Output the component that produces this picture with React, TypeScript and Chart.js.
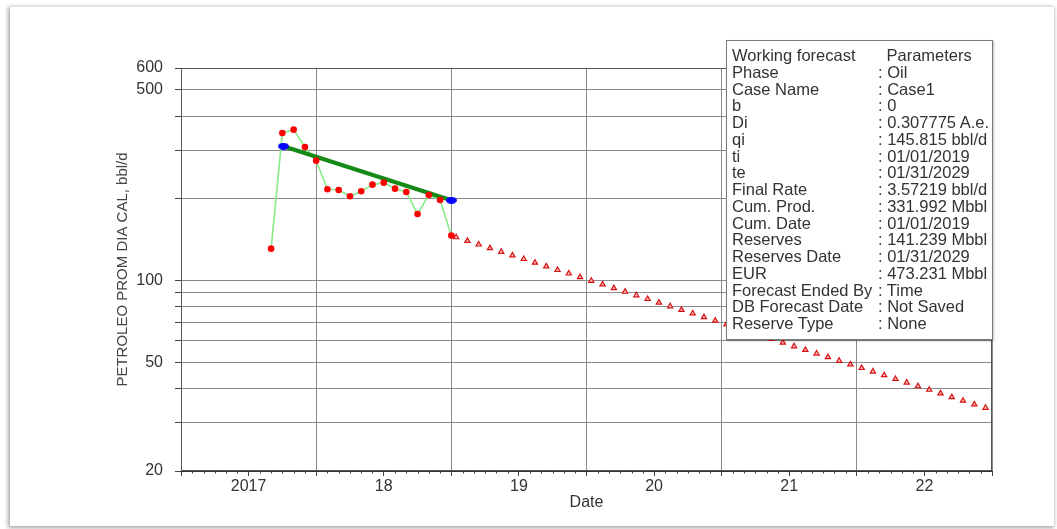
import { useEffect, useRef } from 'react';
import { Chart, registerables } from 'chart.js';

Chart.register(...registerables);

// ---- data -------------------------------------------------------------
const FIRST_YEAR = 2017;
const YEAR_LABELS = ['2017', '18', '19', '20', '21', '22'];
const RATE_TICKS = [20, 30, 40, 50, 60, 70, 80, 90, 100, 200, 300, 400, 500, 600];
const RATE_LABELED = [20, 50, 100, 500, 600];

// monthly historical oil rate, bbl/d
const HIST_DATES = [
  '2017-09-01', '2017-10-01', '2017-11-01', '2017-12-01', '2018-01-01', '2018-02-01',
  '2018-03-01', '2018-04-01', '2018-05-01', '2018-06-01', '2018-07-01', '2018-08-01',
  '2018-09-01', '2018-10-01', '2018-11-01', '2018-12-01', '2019-01-01',
];
const HIST_RATE = [
  130.6, 346.7, 356.6, 308.1, 274.5, 215.6, 214.3, 203.2, 212.1, 224.2, 228.0, 216.7,
  210.8, 175.0, 205.5, 197.0, 145.8,
];

// exponential fit over the history window
const FIT_DATES = ['2017-10-04', '2019-01-01'];
const FIT_RATE = [310.0, 196.5];

// forecast, one value per month starting at FORECAST_START
const FORECAST_START = '2019-01-14';
const FORECAST_RATE = [
  143.8, 139.5, 135.3, 131.2, 127.2, 123.4, 119.7, 116.0, 112.5, 109.1, 105.9, 102.7,
  99.6, 96.6, 93.6, 90.8, 88.1, 85.4, 82.8, 80.3, 77.9, 75.6, 73.3, 71.1,
  68.9, 66.8, 64.8, 62.9, 61.0, 59.1, 57.3, 55.6, 53.9, 52.3, 50.7, 49.2,
  47.7, 46.3, 44.9, 43.5, 42.2, 40.9, 39.7, 38.5, 37.3, 36.2, 35.1, 34.1,
];

const PARAM_HEADER = ['Working forecast', 'Parameters'];
const PARAM_NAMES = [
  'Phase', 'Case Name', 'b', 'Di', 'qi', 'ti', 'te', 'Final Rate', 'Cum. Prod.',
  'Cum. Date', 'Reserves', 'Reserves Date', 'EUR', 'Forecast Ended By',
  'DB Forecast Date', 'Reserve Type',
];
const PARAM_VALUES = [
  'Oil', 'Case1', '0', '0.307775 A.e.', '145.815 bbl/d', '01/01/2019', '01/31/2029',
  '3.57219 bbl/d', '331.992 Mbbl', '01/01/2019', '141.239 Mbbl', '01/31/2029',
  '473.231 Mbbl', 'Time', 'Not Saved', 'None',
];

// ---- helpers -----------------------------------------------------------
const X_MIN = 0;
const X_MAX = YEAR_LABELS.length * 12;

// months elapsed since Jan 1 of FIRST_YEAR
function toMonth(d: string): number {
  const [y, m, day] = d.split('-').map(Number);
  return (y - FIRST_YEAR) * 12 + (m - 1) + ((day || 1) - 1) / 30.4;
}

function ellipseMarker(w: number, h: number, color: string): HTMLCanvasElement {
  const c = document.createElement('canvas');
  c.width = w;
  c.height = h;
  const g = c.getContext('2d')!;
  g.fillStyle = color;
  g.beginPath();
  g.ellipse(w / 2, h / 2, w / 2, h / 2, 0, 0, Math.PI * 2);
  g.fill();
  return c;
}

const FONT = '"Liberation Sans", Arial, sans-serif';
const TEXT = '#333333';

// plot frame and monthly minor ticks on the date axis
const framePlugin = {
  id: 'frame',
  beforeDatasetsDraw(chart: any) {
    const { ctx, chartArea: a, scales } = chart;
    ctx.save();
    ctx.strokeStyle = '#555555';
    ctx.lineWidth = 1;
    ctx.strokeRect(Math.round(a.left) + 0.5, Math.round(a.top) + 0.5,
      Math.round(a.right - a.left) - 1, Math.round(a.bottom - a.top) - 1);
    const xs = scales.x;
    ctx.strokeStyle = '#444444';
    ctx.beginPath();
    for (let m = X_MIN; m <= X_MAX; m++) {
      if (m % 6 === 0) continue;
      const px = Math.round(xs.getPixelForValue(m)) + 0.5;
      ctx.moveTo(px, a.bottom);
      ctx.lineTo(px, a.bottom + 2.5);
    }
    ctx.stroke();
    ctx.restore();
  },
};

export default function App() {
  const canvasRef = useRef<HTMLCanvasElement | null>(null);

  useEffect(() => {
    const canvas = canvasRef.current;
    if (!canvas) return;

    const histPts = HIST_DATES.map((d, i) => ({ x: toMonth(d), y: HIST_RATE[i] }));
    const fitPts = FIT_DATES.map((d, i) => ({ x: toMonth(d), y: FIT_RATE[i] }));
    const start = toMonth(FORECAST_START);
    const fcPts = FORECAST_RATE.map((v, k) => ({ x: start + k, y: v }));

    const chart = new Chart(canvas, {
      type: 'scatter',
      data: {
        datasets: [
          {
            label: 'history line',
            data: histPts,
            showLine: true,
            borderColor: '#86ec86',
            borderWidth: 1.6,
            pointRadius: 0,
            order: 5,
          },
          {
            label: 'fit',
            data: fitPts,
            showLine: true,
            borderColor: '#168a16',
            borderWidth: 4,
            pointRadius: 0,
            order: 4,
          },
          {
            label: 'forecast',
            data: fcPts,
            showLine: false,
            pointStyle: 'triangle',
            pointRadius: 3,
            borderColor: '#d81010',
            backgroundColor: '#ffc0c0',
            borderWidth: 1.2,
            order: 3,
          },
          {
            label: 'history',
            data: histPts,
            showLine: false,
            pointStyle: 'circle',
            pointRadius: 3.3,
            backgroundColor: '#ff0000',
            borderColor: '#ff0000',
            borderWidth: 0,
            order: 2,
          },
          {
            label: 'fit ends',
            data: fitPts,
            showLine: false,
            pointStyle: ellipseMarker(11, 7, '#0000ff') as any,
            pointRadius: 4,
            order: 1,
          },
        ],
      },
      options: {
        responsive: false,
        animation: false,
        events: [],
        layout: { padding: { left: 0, top: 68, right: 65, bottom: 0 } },
        plugins: {
          legend: { display: false },
          tooltip: { enabled: false },
        },
        scales: {
          x: {
            type: 'linear',
            min: X_MIN,
            max: X_MAX,
            afterBuildTicks: (s: any) => {
              const t = [];
              for (let m = X_MIN; m <= X_MAX; m += 6) t.push({ value: m });
              s.ticks = t;
            },
            afterFit: (s: any) => {
              s.height = 58;
            },
            ticks: {
              autoSkip: false,
              maxRotation: 0,
              padding: 1,
              color: TEXT,
              font: { family: FONT, size: 16 },
              callback: (v: any) => {
                const n = Number(v);
                return n % 12 === 6 ? YEAR_LABELS[(n - 6) / 12] : '';
              },
            },
            grid: {
              color: (c: any) => (c.tick && c.tick.value % 12 === 0 ? '#8a8a8a' : 'rgba(0,0,0,0)'),
              tickColor: '#444444',
              tickLength: 5,
              lineWidth: 1,
            },
            border: { display: true, color: '#333333', width: 1 },
            title: {
              display: true,
              text: 'Date',
              color: TEXT,
              font: { family: FONT, size: 16 },
              padding: { top: 0, bottom: 17 },
            },
          },
          y: {
            type: 'logarithmic',
            min: 20,
            max: 600,
            afterBuildTicks: (s: any) => {
              s.ticks = RATE_TICKS.map((v) => ({ value: v }));
            },
            afterFit: (s: any) => {
              s.width = 181;
            },
            ticks: {
              autoSkip: false,
              padding: 12,
              color: TEXT,
              font: { family: FONT, size: 16 },
              callback: (v: any) => (RATE_LABELED.includes(Number(v)) ? String(v) : ''),
            },
            grid: {
              color: '#8a8a8a',
              tickColor: '#444444',
              tickLength: 6,
              lineWidth: 1,
            },
            border: { display: true, color: '#333333', width: 1 },
            title: {
              display: true,
              text: 'PETROLEO PROM DIA CAL, bbl/d',
              color: '#444444',
              font: { family: FONT, size: 15 },
              padding: { top: 114, bottom: 0 },
            },
          },
        },
      },
      plugins: [framePlugin],
    } as any);

    return () => chart.destroy();
  }, []);

  const rowH = 16.75;
  return (
    <div
      style={{
        position: 'fixed',
        left: 0,
        top: 0,
        width: 1057,
        height: 529,
        background: '#ffffff',
        overflow: 'hidden',
      }}
    >
      <div
        style={{
          position: 'absolute',
          left: 10,
          top: 7,
          width: 1044,
          height: 519,
          background: '#ffffff',
          boxShadow: '-1px 1px 4px 1px rgba(0,0,0,0.35)',
        }}
      />
      <canvas
        ref={canvasRef}
        width={1057}
        height={529}
        style={{ position: 'absolute', left: 0, top: 0, width: 1057, height: 529 }}
      />
      <div
        style={{
          position: 'absolute',
          left: 726,
          top: 40,
          width: 267,
          height: 300,
          boxSizing: 'border-box',
          border: '1.5px solid #7a7a7a',
          background: '#ffffff',
          boxShadow: '1px 1px 2px rgba(0,0,0,0.25)',
          paddingTop: 6,
          fontFamily: FONT,
          fontSize: 16.5,
          color: TEXT,
        }}
      >
        {[[PARAM_HEADER[0], PARAM_HEADER[1], false] as [string, string, boolean]]
          .concat(PARAM_NAMES.map((n, i) => [n, PARAM_VALUES[i], true] as [string, string, boolean]))
          .map(([name, value, colon], i) => (
            <div
              key={i}
              style={{
                position: 'relative',
                height: rowH,
                lineHeight: `${rowH}px`,
                whiteSpace: 'pre',
              }}
            >
              <span style={{ position: 'absolute', left: 5 }}>{name}</span>
              <span style={{ position: 'absolute', left: colon ? 151 : 159.5 }}>
                {colon ? `: ${value}` : value}
              </span>
            </div>
          ))}
      </div>
    </div>
  );
}
